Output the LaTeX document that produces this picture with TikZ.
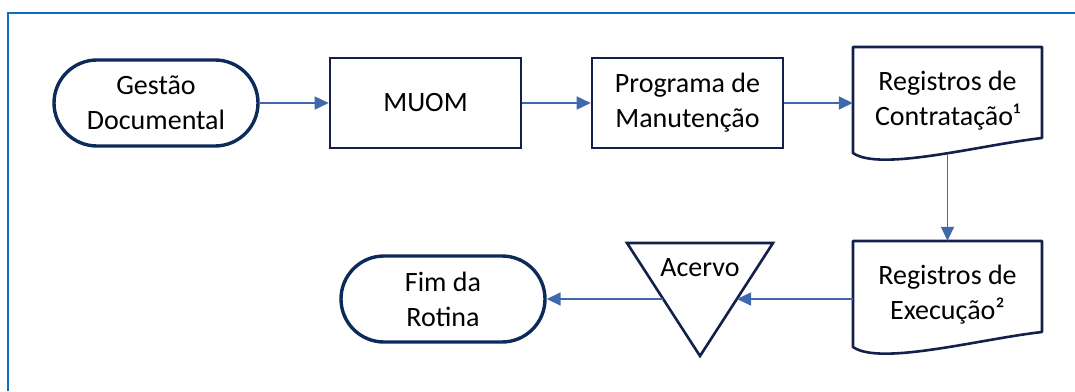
\documentclass[tikz,border=0pt]{standalone}
\usepackage{fontspec}
\setmainfont{Carlito}
\usepackage{tikz}
\usetikzlibrary{positioning,calc,arrows.meta}
\usepackage{xcolor}
\definecolor{frameblue}{HTML}{0A6FC2}
\definecolor{boxnavy}{HTML}{13204A}
\definecolor{termnavy}{HTML}{0C2A5A}
\definecolor{arrowblue}{HTML}{4068AD}

\begin{document}
\begin{tikzpicture}[x=1pt,y=-1pt,every node/.style={font=\fontsize{28}{35}\selectfont,align=center},
    box/.style={draw=boxnavy,line width=2.6pt,minimum width=191pt,minimum height=90pt},
    term/.style={draw=termnavy,line width=3.4pt,rounded corners=43pt,minimum width=204pt,minimum height=86pt},
    doc/.style={minimum width=189pt,minimum height=108pt,inner sep=0pt},
    docline/.style={draw=boxnavy,line width=2.6pt,line join=round},
    flow/.style={draw=arrowblue,line width=1.6pt,-{Triangle[length=14pt,width=13pt]}}]

        \useasboundingbox (0,0) rectangle (1075,391);
        \draw[frameblue,line width=2.4pt] (8,391) -- (8,13) -- (1075,13);

        \node[term] (gd) at (156,103) {Gestão\\Documental};
        \node[box] (muom) at (425.5,103) {MUOM};
        \node[box] (prog) at (687.5,103) {Programa de\\Manutenção};
        \node[doc] (contr) at (947.5,101) {Registros de\\Contratação¹};
        \node[doc] (exec) at (947.5,295) {Registros de\\Execução²};
        \node (acervo) at (700,268) {Acervo};
        \node[term] (fim) at (443,299) {Fim da\\Rotina};

        % document outlines and the storage triangle
        \draw[docline] (853,153) -- (853,47) -- (1042,47) -- (1042,138) .. controls (980,145) and (880,172) .. (853,153) -- cycle;
        \draw[docline] (853,347) -- (853,241) -- (1042,241) -- (1042,332) .. controls (980,339) and (880,366) .. (853,347) -- cycle;
        \draw[docline,line join=miter] (627,243) -- (773,243) -- (700,356) -- cycle;
        \coordinate (acin) at (737,299);
        \coordinate (acout) at (663,299);

        \draw[flow] (gd) to (muom);
        \draw[flow] (muom) to (prog);
        \draw[flow] (prog.east) to (prog.east -| contr.west);
        \draw[flow] (contr.south) to (exec.north);
        \draw[flow] (exec.west |- acin) to (acin);
        \draw[flow] (acout) to (fim.east);
    \end{tikzpicture}
\end{document}
